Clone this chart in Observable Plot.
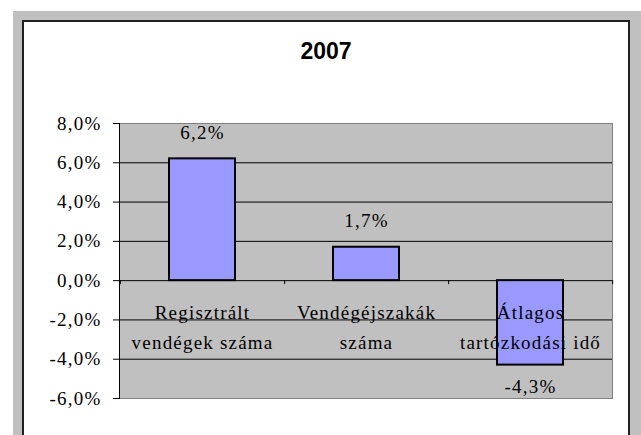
<!DOCTYPE html>
<html><head><meta charset="utf-8">
<script src="https://cdn.jsdelivr.net/npm/d3@7"></script>
<script src="https://cdn.jsdelivr.net/npm/@observablehq/plot@0.6"></script>
<style>
body{margin:0;background:#fff}
#wrap{position:relative;width:641px;height:435px;overflow:hidden;background:#fff}
#gray{position:absolute;left:13px;top:11px;width:700px;height:500px;background:#c0c0c0}
#box{position:absolute;left:22px;top:20px;width:608px;height:500px;box-sizing:border-box;border:2px solid #202020;background:#fff}
#title{position:absolute;left:22px;width:608px;top:38px;text-align:center;font:bold 23px/26px "Liberation Sans",Arial,sans-serif;color:#000}
#chart{position:absolute;left:0;top:0}
#chart svg, #chart svg text, #chart svg g {font-family:"Liberation Serif","Times New Roman",serif !important;font-size:19px !important;letter-spacing:1.2px;}
</style></head><body>
<div id="wrap"><div id="gray"></div><div id="box"></div><div id="title"></div><div id="chart"></div></div>
<script>
const title = "2007";
const categories = ["Regisztrált\nvendégek száma", "Vendégéjszakák\nszáma", "Átlagos\ntartózkodási idő"];
const values = [6.2, 1.7, -4.3];
const yTicks = [-6, -4, -2, 0, 2, 4, 6, 8];

document.getElementById("title").textContent = title;
const fmt = v => v.toFixed(1).replace(".", ",") + "%";
const data = categories.map((c, i) => ({cat: c, value: values[i]}));
const W = 641, H = 435, mL = 119, mR = 29, mT = 123, mB = 37;
const step = (W - mL - mR) / categories.length;

const plot = Plot.plot({
  width: W, height: H,
  marginLeft: mL, marginRight: mR, marginTop: mT, marginBottom: mB,
  style: {background: "transparent", color: "#000", overflow: "visible"},
  x: {domain: categories, paddingInner: 0.6, paddingOuter: 0.3, axis: null},
  y: {domain: [-6, 8]},
  marks: [
    Plot.frame({fill: "#c0c0c0", stroke: "#808080"}),
    Plot.ruleY(yTicks.filter(t => t > -6 && t < 8), {stroke: "#000"}),
    Plot.frame({anchor: "left", stroke: "#000"}),
    Plot.axisY({ticks: yTicks, tickFormat: fmt, tickSize: 6, tickPadding: 12, label: null}),
    Plot.ruleX(categories, {x: d => d, y1: 0, y2: 0, insetBottom: -4, dx: step / 2, stroke: "#000"}),
    Plot.ruleX(categories.slice(0, 1), {x: d => d, y1: 0, y2: 0, insetBottom: -4, dx: -step / 2, stroke: "#000"}),
    Plot.barY(data, {x: "cat", y: "value", fill: "#9999ff", stroke: "#000", strokeWidth: 2}),
    Plot.text(data, {x: "cat", y: 0, text: "cat", lineAnchor: "bottom", lineHeight: 30 / 19, dy: 68, fill: "#000"}),
    Plot.text(data.filter(d => d.value >= 0), {x: "cat", y: "value", text: d => fmt(d.value), lineAnchor: "bottom", dy: -20, fill: "#000"}),
    Plot.text(data.filter(d => d.value < 0), {x: "cat", y: "value", text: d => fmt(d.value), lineAnchor: "bottom", dy: 28, fill: "#000"})
  ]
});
document.getElementById("chart").appendChild(plot);
</script>
</body></html>
